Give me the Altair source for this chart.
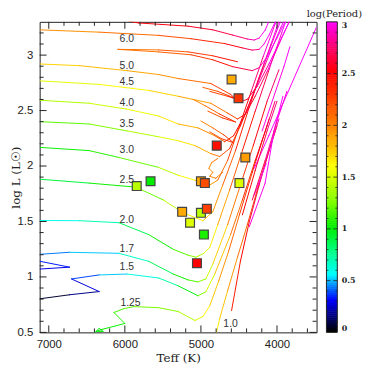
import altair as alt
import pandas as pd

# ---- evolutionary tracks: (Teff [K], log L, log Period) ----
trk_7_0 = [(5948, 3.306, 2.5), (5818, 3.29, 2.5), (5169, 3.261, 2.55), (4844, 3.228, 2.6),
           (4584, 3.181, 2.7), (4390, 3.145, 2.8), (4299, 3.136, 2.9), (4234, 3.154, 2.95),
           (4156, 3.225, 3.0), (4091, 3.33, 3.0)]
trk_6_0 = [(7117, 3.228, 1.9), (6338, 3.207, 2.0), (5558, 3.178, 2.15), (5130, 3.148, 2.25),
           (4688, 3.104, 2.45), (4455, 3.065, 2.6), (4325, 3.045, 2.75), (4234, 3.052, 2.85),
           (4169, 3.101, 2.95), (4104, 3.181, 3.0), (4026, 3.297, 3.0), (4000, 3.341, 3.0)]
loop_6_0 = [(4519, 2.940, 2.55), (4844, 2.994, 2.35), (5169, 3.029, 2.2), (5558, 3.047, 2.1),
            (6091, 3.052, 2.0), (5558, 3.029, 2.1), (5130, 3.003, 2.2), (4844, 2.958, 2.35),
            (4584, 2.896, 2.55), (4325, 2.860, 2.75), (4234, 2.887, 2.85), (4130, 2.985, 2.95),
            (4000, 3.154, 3.0), (3870, 3.332, 3.0)]
trk_5_0 = [(7117, 2.920, 1.7), (6597, 2.905, 1.75), (5974, 2.860, 1.85), (5558, 2.825, 1.9),
           (5299, 2.789, 2.0), (4870, 2.744, 2.15), (4610, 2.646, 2.35), (4494, 2.575, 2.5),
           (4390, 2.602, 2.6), (4260, 2.718, 2.75), (4104, 2.923, 2.9), (3935, 3.163, 3.0),
           (3818, 3.332, 3.0)]
loop_5_0 = [(4974, 2.709, 2.1), (4779, 2.673, 2.2), (4584, 2.620, 2.35), (4455, 2.584, 2.5),
            (4649, 2.629, 2.3), (4883, 2.673, 2.15)]
trk_4_5 = [(7117, 2.768, 1.5), (6338, 2.736, 1.55), (5688, 2.682, 1.65), (5299, 2.629, 1.8),
           (4870, 2.566, 1.95), (4649, 2.477, 2.15), (4519, 2.424, 2.3), (4416, 2.468, 2.45),
           (4286, 2.629, 2.6), (4130, 2.851, 2.8), (3961, 3.118, 2.95), (3831, 3.314, 3.0)]
loop_4_5 = [(5104, 2.602, 1.95), (4935, 2.540, 2.05), (4753, 2.468, 2.2), (4545, 2.397, 2.4),
            (4714, 2.433, 2.25), (4909, 2.495, 2.1)]
trk_4_0 = [(7117, 2.593, 1.35), (6468, 2.566, 1.4), (5974, 2.513, 1.5), (5558, 2.451, 1.6),
           (5299, 2.379, 1.75), (5039, 2.344, 1.9), (4818, 2.273, 2.05), (4688, 2.219, 2.25),
           (4571, 2.273, 2.4), (4429, 2.451, 2.55), (4286, 2.691, 2.7), (4130, 2.958, 2.85),
           (3948, 3.252, 3.0), (3870, 3.368, 3.0)]
loop_4_0 = [(5000, 2.406, 1.95), (4844, 2.344, 2.05), (4701, 2.281, 2.2), (4571, 2.210, 2.4),
            (4727, 2.246, 2.25), (4883, 2.308, 2.1)]
trk_3_5 = [(7117, 2.400, 1.15), (6468, 2.379, 1.2), (5974, 2.317, 1.3), (5558, 2.264, 1.45),
           (5299, 2.228, 1.6), (5078, 2.184, 1.75), (4870, 2.112, 1.95), (4753, 2.086, 2.1),
           (4623, 2.157, 2.25), (4481, 2.362, 2.4), (4325, 2.629, 2.6), (4169, 2.923, 2.8),
           (4000, 3.225, 3.0), (3935, 3.332, 3.0)]
trk_3_0 = [(7117, 2.168, 1.0), (6468, 2.139, 1.05), (6078, 2.077, 1.1), (5558, 1.988, 1.3),
           (5299, 1.917, 1.5), (5078, 1.872, 1.7), (4909, 1.819, 1.85), (4779, 1.872, 2.0),
           (4649, 2.050, 2.15), (4494, 2.362, 2.4), (4338, 2.673, 2.65), (4182, 2.985, 2.85),
           (4026, 3.279, 3.0), (3974, 3.368, 3.0)]
loop_3_0 = [(4779, 2.068, 2.1), (4857, 2.032, 2.0), (4896, 1.979, 1.95), (4844, 1.943, 2.0),
            (4883, 1.907, 1.95), (4805, 1.890, 2.0), (4714, 1.943, 2.1)]
trk_2_5 = [(7117, 1.881, 0.85), (6468, 1.846, 0.95), (5857, 1.810, 1.1), (5494, 1.694, 1.3),
           (5234, 1.578, 1.5), (4974, 1.507, 1.7), (4844, 1.587, 1.85), (4714, 1.828, 2.0),
           (4545, 2.139, 2.25), (4390, 2.477, 2.5), (4234, 2.798, 2.75), (4078, 3.101, 2.95),
           (3961, 3.332, 3.0)]
trk_2_0 = [(7117, 1.509, 0.55), (6597, 1.507, 0.62), (6078, 1.489, 0.75), (5688, 1.382, 0.95),
           (5364, 1.249, 1.1), (5169, 1.196, 1.2), (5065, 1.178, 1.3), (4961, 1.213, 1.45),
           (4883, 1.267, 1.55), (4779, 1.471, 1.75), (4623, 1.783, 2.0), (4455, 2.139, 2.3),
           (4286, 2.495, 2.55), (4104, 2.869, 2.8), (3935, 3.207, 3.0), (3870, 3.332, 3.0)]
trk_1_7 = [(7117, 1.204, 0.4), (6727, 1.222, 0.45), (6078, 1.213, 0.55), (5688, 1.141, 0.75),
           (5364, 1.026, 0.95), (5169, 0.973, 1.1), (5039, 0.955, 1.2), (4935, 0.982, 1.35),
           (4844, 1.115, 1.55), (4649, 1.471, 1.9), (4481, 1.828, 2.15), (4312, 2.184, 2.4),
           (4130, 2.584, 2.65), (3974, 2.869, 2.85)]
hook_1_7 = [(7117, 1.071, 0.25), (6727, 1.088, 0.3), (7117, 1.141, 0.35)]
trk_1_5 = [(7117, 0.803, 0.02), (6727, 0.839, 0.1), (6338, 0.868, 0.22), (6701, 0.982, 0.3),
           (6338, 1.018, 0.45), (5974, 1.026, 0.55), (5558, 0.991, 0.65), (5299, 0.920, 0.8),
           (5039, 0.830, 1.15), (4935, 0.866, 1.35), (4818, 1.026, 1.6), (4610, 1.382, 1.95),
           (4455, 1.694, 2.2), (4286, 2.050, 2.45), (4130, 2.362, 2.65), (4026, 2.584, 2.8)]
trk_1_25 = [(6416, 0.482, 0.95), (6338, 0.536, 1.0), (6286, 0.509, 1.0), (6377, 0.509, 1.0),
            (6299, 0.527, 1.0), (6000, 0.580, 1.05), (6143, 0.679, 1.1), (6013, 0.714, 1.15),
            (5883, 0.732, 1.2), (5558, 0.723, 1.25), (5299, 0.688, 1.3), (5078, 0.607, 1.45),
            (4974, 0.643, 1.55), (4883, 0.741, 1.65), (4766, 0.964, 1.85), (4636, 1.231, 2.0),
            (4494, 1.560, 2.2), (4325, 1.943, 2.4), (4195, 2.228, 2.55), (4104, 2.424, 2.7)]
trk_1_0 = [(4805, 0.473, 1.6), (4753, 0.625, 1.7), (4649, 0.875, 1.85), (4519, 1.178, 2.0),
           (4390, 1.471, 2.15), (4234, 1.846, 2.3), (4104, 2.139, 2.45), (4000, 2.362, 2.6)]
agb_a = [(4597, 0.697, 2.35), (4481, 1.141, 2.45), (4364, 1.498, 2.55), (4234, 1.828, 2.7),
         (4104, 2.139, 2.8), (3974, 2.424, 2.95)]
agb_b = [(4364, 1.453, 2.9), (4156, 1.846, 3.0), (4039, 2.317, 3.0), (3922, 2.629, 3.0)]
agb_c = [(4299, 1.738, 2.95), (4143, 2.023, 3.0)]
agb_d = [(4299, 1.979, 3.0), (4108, 2.273, 3.0), (3481, 3.252, 3.0)]
agb_e = [(4455, 1.560, 2.4), (4286, 1.961, 2.55), (4130, 2.317, 2.7), (4000, 2.584, 2.85)]
agb_f = [(4325, 1.694, 2.6), (4156, 2.050, 2.75), (4000, 2.406, 2.9), (3870, 2.673, 3.0)]
agb_g = [(4195, 2.317, 2.9), (3909, 2.896, 3.0), (3831, 3.074, 3.0)]

all_tracks = [("1.0", trk_1_0), ("1.25", trk_1_25), ("1.5", trk_1_5), ("1.7h", hook_1_7),
              ("1.7", trk_1_7), ("2.0", trk_2_0), ("2.5", trk_2_5), ("3.0", trk_3_0),
              ("3.0l", loop_3_0), ("3.5", trk_3_5), ("4.0", trk_4_0), ("4.0l", loop_4_0),
              ("4.5", trk_4_5), ("4.5l", loop_4_5), ("5.0", trk_5_0), ("5.0l", loop_5_0),
              ("6.0l", loop_6_0), ("6.0", trk_6_0), ("7.0", trk_7_0), ("agb_a", agb_a),
              ("agb_b", agb_b), ("agb_c", agb_c), ("agb_d", agb_d), ("agb_e", agb_e),
              ("agb_f", agb_f), ("agb_g", agb_g)]

# ---- observed stars ----
star_T = [4597, 4506, 4792, 4416, 5000, 4948, 4494, 5662, 5844, 5247, 5000, 4922, 5143, 4961, 5052]
star_L = [2.780, 2.611, 2.184, 2.077, 1.863, 1.846, 1.846, 1.863, 1.819, 1.587, 1.578, 1.614, 1.489, 1.382, 1.124]
star_P = [1.85, 2.3, 2.45, 1.9, 1.85, 2.2, 1.5, 1.0, 1.4, 1.85, 1.4, 2.25, 1.5, 1.05, 2.5]

# ---- mass labels ----
lab_text = ["6.0", "5.0", "4.5", "4.0", "3.5", "3.0", "2.5", "2.0", "1.7", "1.5", "1.25", "1.0"]
lab_T = [5974, 5974, 5974, 5974, 5974, 5974, 5974, 5974, 5974, 5974, 5926, 4610]
lab_L = [3.146, 2.905, 2.753, 2.565, 2.378, 2.14, 1.87, 1.51, 1.25, 1.09, 0.768, 0.573]

# ---- axis ticks ----
x_major = [4000, 5000, 6000, 7000]
x_minor = [t for t in range(3600, 7001, 200) if t % 1000 != 0]
y_major = [0.5, 1.0, 1.5, 2.0, 2.5, 3.0]
y_minor = [round(0.5 + 0.1 * i, 1) for i in range(1, 28) if i % 5 != 0]

# ---- colour bar ----
cb_domain = [0, 0.15, 0.3, 0.45, 0.55, 0.75, 1.0, 1.25, 1.5, 1.6, 1.75, 2.0, 2.25, 2.5, 2.75, 3.0]
cb_range = ["#000000", "#000080", "#0000ff", "#0090ff", "#00ffff", "#00ff90", "#00ee00", "#80ff00",
            "#ddff00", "#ffff00", "#ffc800", "#ff8000", "#ff4000", "#ff0000", "#ff0070", "#ff00ff"]
cb_labels = [0, 0.5, 1, 1.5, 2, 2.5, 3]
cb_minor = [round(0.1 * i, 1) for i in range(1, 30) if i % 5 != 0]
cb_steps = [round(0.02 * i, 2) for i in range(150)]

# ---- build tables ----
rows = []
for name, trk in all_tracks:
    for a, b in zip(trk[:-1], trk[1:]):
        rows.append(dict(T=a[0], L=a[1], T2=b[0], L2=b[1], P=(a[2] + b[2]) / 2, track=name))
seg_df = pd.DataFrame(rows)
star_df = pd.DataFrame(dict(T=star_T, L=star_L, P=star_P))
lab_df = pd.DataFrame(dict(T=lab_T, L=lab_L, text=lab_text))
cb_df = pd.DataFrame(dict(v=cb_steps, v2=[min(s + 0.025, 3.0) for s in cb_steps]))

W, H = 280, 314
CB0, CB1 = 290, 301
INK = "#222222"
xs = alt.Scale(domain=[3480, 7120], reverse=True, nice=False, zero=False)
ys = alt.Scale(domain=[0.5, 3.3], nice=False, zero=False)
cs = alt.Scale(domain=cb_domain, range=cb_range, interpolate="rgb")
cys = alt.Scale(domain=[0, 3], nice=False, zero=False)

xaxis = alt.Axis(values=x_major, format="d", ticks=False, domain=False, grid=False, labelFlush=False,
                 labelFont="Liberation Sans", labelFontSize=11.5, labelColor=INK, labelPadding=6,
                 title="Teff (K)", titleFont="DejaVu Serif", titleFontSize=12, titleFontWeight="normal",
                 titleColor=INK, titleY=25, titleBaseline="middle")
yaxis = alt.Axis(values=y_major, format="~g", ticks=False, domain=False, grid=False, labelFlush=False,
                 labelFont="Liberation Sans", labelFontSize=11.5, labelColor=INK, labelPadding=7,
                 title="log L (L☉)", titleFont="DejaVu Serif", titleFontSize=12, titleFontWeight="normal",
                 titleColor=INK, titleX=-24, titleY=H / 2, titleAngle=270, titleAlign="center",
                 titleBaseline="middle")
cbaxis = alt.Axis(orient="right", offset=CB1 - W, values=cb_labels, format="~g", ticks=False,
                  domain=False, grid=False, labelFlush=True, labelFont="DejaVu Serif", labelFontSize=8,
                  labelFontWeight="bold", labelColor=INK, labelPadding=4, title=None)


def X(f="T"):
    return alt.X(f + ":Q", scale=xs, axis=xaxis, title="Teff (K)")


def Y(f="L"):
    return alt.Y(f + ":Q", scale=ys, axis=yaxis, title="log L (L☉)")


def CY(f="v"):
    return alt.Y(f + ":Q", scale=cys, axis=cbaxis)


color = alt.Color("P:Q", scale=cs, legend=None)

segs = alt.Chart(seg_df).mark_rule(strokeWidth=1, strokeCap="round", clip=True).encode(
    x=X(), y=Y(), x2="T2:Q", y2="L2:Q", color=color)

stars = alt.Chart(star_df).mark_square(size=80, filled=True, opacity=1, stroke="#444444",
                                       strokeWidth=1.2).encode(x=X(), y=Y(), color=color)

labels = alt.Chart(lab_df).mark_text(font="Liberation Sans", fontSize=10.5, color="#333333").encode(
    x=X(), y=Y(), text="text:N")

xmaj_df = pd.DataFrame(dict(T=x_major))
xmin_df = pd.DataFrame(dict(T=x_minor))
ymaj_df = pd.DataFrame(dict(L=y_major))
ymin_df = pd.DataFrame(dict(L=y_minor))

tick_layers = []
for df, ln in [(xmaj_df, 7), (xmin_df, 4)]:
    tick_layers.append(alt.Chart(df).mark_rule(color=INK, strokeWidth=1).encode(
        x=X(), y=alt.value(H), y2=alt.value(H - ln)))
    tick_layers.append(alt.Chart(df).mark_rule(color=INK, strokeWidth=1).encode(
        x=X(), y=alt.value(0), y2=alt.value(ln)))
for df, ln in [(ymaj_df, 7), (ymin_df, 4)]:
    tick_layers.append(alt.Chart(df).mark_rule(color=INK, strokeWidth=1).encode(
        y=Y(), x=alt.value(0), x2=alt.value(ln)))
    tick_layers.append(alt.Chart(df).mark_rule(color=INK, strokeWidth=1).encode(
        y=Y(), x=alt.value(W), x2=alt.value(W - ln)))

main = alt.layer(segs, stars, labels, *tick_layers)

# colour bar drawn beside the plot, on its own vertical scale
cb_rect = alt.Chart(cb_df).mark_rect().encode(
    y=CY("v"), y2="v2:Q", x=alt.value(CB0), x2=alt.value(CB1),
    color=alt.Color("v:Q", scale=cs, legend=None))
cb_frame = alt.Chart(pd.DataFrame(dict(v=[0.0]))).mark_rect(
    fill=None, stroke=INK, strokeWidth=1).encode(
    y=CY("v"), y2=alt.value(0), x=alt.value(CB0), x2=alt.value(CB1))
cbmaj_df = pd.DataFrame(dict(v=[0.5, 1.0, 1.5, 2.0, 2.5]))
cbmin_df = pd.DataFrame(dict(v=cb_minor))
cb_ticks = []
for df, ln in [(cbmaj_df, 4), (cbmin_df, 2)]:
    cb_ticks.append(alt.Chart(df).mark_rule(color=INK, strokeWidth=0.8).encode(
        y=CY(), x=alt.value(CB0), x2=alt.value(CB0 + ln)))
    cb_ticks.append(alt.Chart(df).mark_rule(color=INK, strokeWidth=0.8).encode(
        y=CY(), x=alt.value(CB1), x2=alt.value(CB1 - ln)))
cb_title = alt.Chart(pd.DataFrame(dict(t=["log(Period)"]))).mark_text(
    font="DejaVu Serif", fontSize=10, color=INK, align="center", baseline="middle").encode(
    x=alt.value(298), y=alt.value(-7.5), text="t:N")
cbar = alt.layer(cb_rect, cb_frame, *cb_ticks, cb_title)

chart = alt.layer(main, cbar).resolve_scale(y="independent").properties(
    width=W, height=H,
    autosize=alt.AutoSizeParams(type="none"),
    padding={"left": 32, "top": 12, "right": 50, "bottom": 32},
).configure_view(stroke=INK, strokeWidth=1)

chart.save("out.html", embed_options={"renderer": "svg", "actions": False})
